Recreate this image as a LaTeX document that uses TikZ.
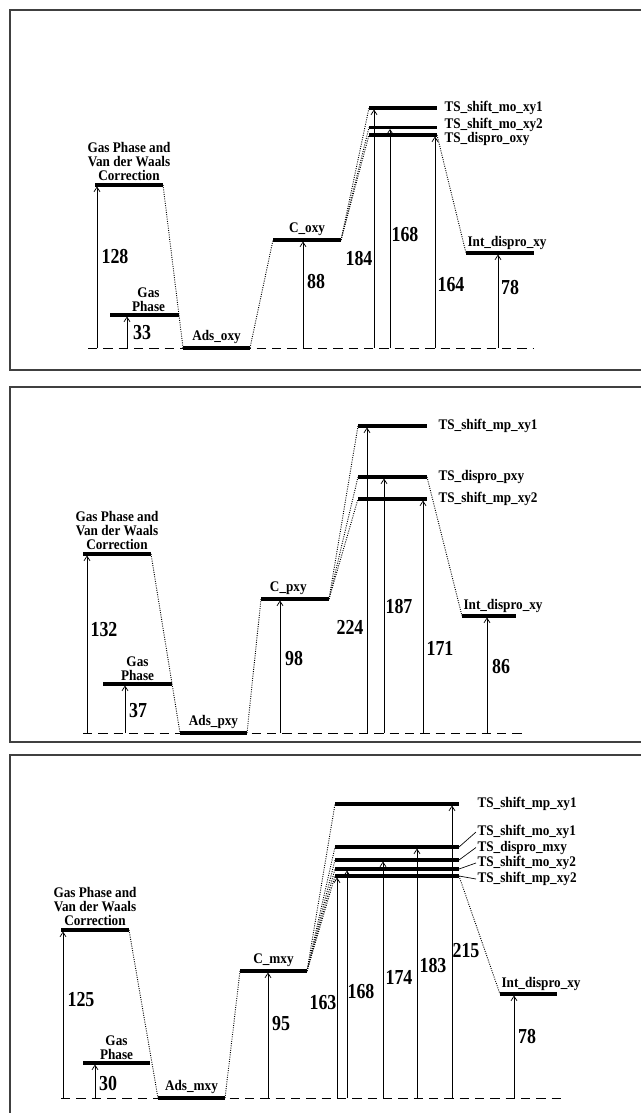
\documentclass[tikz,border=0pt]{standalone}
\usepackage{fontspec}
\setmainfont{Liberation Serif}
\newfontfamily\labfont{Liberation Serif Bold}[FakeStretch=0.9]
\newfontfamily\numfont{Liberation Serif Bold}[FakeStretch=0.84]
\usetikzlibrary{arrows.meta}

\begin{document}
\begin{tikzpicture}[
x=0.75pt, y=-0.75pt,
lvl/.style={line width=2.3pt},
link/.style={densely dotted, line width=0.7pt},
zero/.style={dash pattern=on 7pt off 4.5pt, line width=0.7pt},
rise/.style={-{Straight Barb[length=3.5pt,width=4.5pt]}, line width=0.55pt, shorten >=1.1pt},
lab/.style={font=\labfont\fontsize{11}{10.5}\selectfont, align=center, inner sep=1pt},
num/.style={font=\numfont\fontsize{16}{18}\selectfont, inner sep=0pt},
panel/.style={line width=0.8pt, draw=black!75},
lead/.style={line width=0.5pt}
]
\useasboundingbox (0,0) rectangle (641,1113);

% frames
\draw[panel] (641,10) -- (10,10) -- (10,370) -- (641,370);
\draw[panel] (641,387) -- (10,387) -- (10,742) -- (641,742);
\draw[panel] (641,755) -- (10,755) -- (10,1113);

%% o-xylene
\draw[zero] (88,348) -- (534,348);

\draw[lvl] (95,185) coordinate (vdwo-l) -- node[lab, above=1pt] (vdwo-t)
{Gas Phase and\\Van der Waals\\Correction} (163,185) coordinate (vdwo-r);
\draw[lvl] (110,315) coordinate (gaso-l) -- node[lab, above=0.5pt, xshift=3pt] (gaso-t)
{Gas\\Phase} (179,315) coordinate (gaso-r);
\draw[lvl] (183,348) coordinate (adso-l) -- node[lab, above=1pt] (adso-t)
{Ads\_oxy} (250,348) coordinate (adso-r);
\draw[lvl] (273,240) coordinate (co-l) -- node[lab, above=1pt] (co-t)
{C\_oxy} (341,240) coordinate (co-r);
\draw[lvl] (369,108) coordinate (tso1-l) -- (437,108) coordinate (tso1-r)
node[lab, right=3.5pt] (tso1-t) {TS\_shift\_mo\_xy1};
\draw[lvl] (369,127.5) coordinate (tso2-l) -- (437,127.5) coordinate (tso2-r)
node[lab, right=3.5pt, yshift=1.8pt] (tso2-t) {TS\_shift\_mo\_xy2};
\draw[lvl] (369,135) coordinate (tsdo-l) -- (437,135) coordinate (tsdo-r)
node[lab, right=3.5pt, yshift=-3pt] (tsdo-t) {TS\_dispro\_oxy};
\draw[lvl] (466,253) coordinate (into-l) -- (534,253) coordinate (into-r);
\node[lab, anchor=south west] (into-t) at ([yshift=1pt]into-l) {Int\_dispro\_xy};

\draw[link] (vdwo-r) -- (adso-l);
\draw[link] (adso-r) -- (co-l);
\draw[link] (co-r) -- (tso1-l);
\draw[link] (co-r) -- (tso2-l);
\draw[link] (co-r) -- (tsdo-l);
\draw[link] (tsdo-r) -- (into-l);

\draw[rise] (97,348) coordinate (o128) -- (o128 |- vdwo-l);
\draw[rise] (127,348) coordinate (o33) -- (o33 |- gaso-l);
\draw[rise] (303,348) coordinate (o88) -- (o88 |- co-l);
\draw[rise] (374,348) coordinate (o184) -- (o184 |- tso1-l);
\draw[rise] (390,348) coordinate (o168) -- (o168 |- tso2-l);
\draw[rise] (435,348) coordinate (o164) -- (o164 |- tsdo-l);
\draw[rise] (498,348) coordinate (o78) -- (o78 |- into-l);

\node[num] (no128) at (115,257) {128};
\node[num] (no33) at (142,333) {33};
\node[num] (no88) at (316,282) {88};
\node[num] (no184) at (359,259) {184};
\node[num] (no168) at (405,235) {168};
\node[num] (no164) at (451,285) {164};
\node[num] (no78) at (510,288) {78};

%% p-xylene
\draw[zero] (83,733) -- (523,733);

\draw[lvl] (83,554) coordinate (vdwp-l) -- node[lab, above=1pt] (vdwp-t)
{Gas Phase and\\Van der Waals\\Correction} (151,554) coordinate (vdwp-r);
\draw[lvl] (103,684) coordinate (gasp-l) -- node[lab, above=0.5pt] (gasp-t)
{Gas\\Phase} (172,684) coordinate (gasp-r);
\draw[lvl] (180,733) coordinate (adsp-l) -- node[lab, above=1pt] (adsp-t)
{Ads\_pxy} (247,733) coordinate (adsp-r);
\draw[lvl] (261,599) coordinate (cp-l) -- node[lab, above=1pt, xshift=-5pt] (cp-t)
{C\_pxy} (329,599) coordinate (cp-r);
\draw[lvl] (358,426) coordinate (tsp1-l) -- (427,426) coordinate (tsp1-r)
node[lab, right=6.5pt] (tsp1-t) {TS\_shift\_mp\_xy1};
\draw[lvl] (358,477) coordinate (tspd-l) -- (427,477) coordinate (tspd-r)
node[lab, right=6.5pt] (tspd-t) {TS\_dispro\_pxy};
\draw[lvl] (358,499) coordinate (tsp2-l) -- (427,499) coordinate (tsp2-r)
node[lab, right=6.5pt] (tsp2-t) {TS\_shift\_mp\_xy2};
\draw[lvl] (462,616) coordinate (intp-l) -- (516,616) coordinate (intp-r);
\node[lab, anchor=south west] (intp-t) at ([yshift=1pt]intp-l) {Int\_dispro\_xy};

\draw[link] (vdwp-r) -- (adsp-l);
\draw[link] (adsp-r) -- (cp-l);
\draw[link] (cp-r) -- (tsp1-l);
\draw[link] (cp-r) -- (tspd-l);
\draw[link] (cp-r) -- (tsp2-l);
\draw[link] (tspd-r) -- (intp-l);

\draw[rise] (87,733) coordinate (p132) -- (p132 |- vdwp-l);
\draw[rise] (125,733) coordinate (p37) -- (p37 |- gasp-l);
\draw[rise] (280,733) coordinate (p98) -- (p98 |- cp-l);
\draw[rise] (367,733) coordinate (p224) -- (p224 |- tsp1-l);
\draw[rise] (384,733) coordinate (p187) -- (p187 |- tspd-l);
\draw[rise] (423,733) coordinate (p171) -- (p171 |- tsp2-l);
\draw[rise] (487,733) coordinate (p86) -- (p86 |- intp-l);

\node[num] (np132) at (104,630) {132};
\node[num] (np37) at (138,711) {37};
\node[num] (np98) at (294,659) {98};
\node[num] (np224) at (350,627) {224};
\node[num] (np187) at (399,607) {187};
\node[num] (np171) at (440,648) {171};
\node[num] (np86) at (501,667) {86};

%% m-xylene
\draw[zero] (61,1098) -- (562,1098);

\draw[lvl] (61,930) coordinate (vdwm-l) -- node[lab, above=1pt] (vdwm-t)
{Gas Phase and\\Van der Waals\\Correction} (129,930) coordinate (vdwm-r);
\draw[lvl] (83,1063) coordinate (gasm-l) -- node[lab, above=0.5pt] (gasm-t)
{Gas\\Phase} (150,1063) coordinate (gasm-r);
\draw[lvl] (158,1098) coordinate (adsm-l) -- node[lab, above=1pt] (adsm-t)
{Ads\_mxy} (225,1098) coordinate (adsm-r);
\draw[lvl] (240,971) coordinate (cm-l) -- node[lab, above=1pt] (cm-t)
{C\_mxy} (307,971) coordinate (cm-r);
\draw[lvl] (335,804) coordinate (tsm-mp1-l) -- (459,804) coordinate (tsm-mp1-r);
\draw[lvl] (335,847) coordinate (tsm-mo1-l) -- (459,847) coordinate (tsm-mo1-r);
\draw[lvl] (335,860) coordinate (tsm-d-l) -- (459,860) coordinate (tsm-d-r);
\draw[lvl] (335,869) coordinate (tsm-mo2-l) -- (459,869) coordinate (tsm-mo2-r);
\draw[lvl] (335,876) coordinate (tsm-mp2-l) -- (459,876) coordinate (tsm-mp2-r);
\draw[lvl] (500,994) coordinate (intm-l) -- (557,994) coordinate (intm-r);
\node[lab, anchor=south west] (intm-t) at ([yshift=1pt]intm-l) {Int\_dispro\_xy};

\node[lab, anchor=west] (tsm-mp1-t) at (476,804) {TS\_shift\_mp\_xy1};
\node[lab, anchor=west] (tsm-mo1-t) at (476,832) {TS\_shift\_mo\_xy1};
\node[lab, anchor=west] (tsm-d-t) at (476,847.5) {TS\_dispro\_mxy};
\node[lab, anchor=west] (tsm-mo2-t) at (476,863) {TS\_shift\_mo\_xy2};
\node[lab, anchor=west] (tsm-mp2-t) at (476,879) {TS\_shift\_mp\_xy2};
\draw[lead] (tsm-mo1-r) -- (tsm-mo1-t.west);
\draw[lead] (tsm-d-r) -- (tsm-d-t.west);
\draw[lead] (tsm-mo2-r) -- (tsm-mo2-t.west);
\draw[lead] (tsm-mp2-r) -- (tsm-mp2-t.west);

\draw[link] (vdwm-r) -- (adsm-l);
\draw[link] (adsm-r) -- (cm-l);
\draw[link] (cm-r) -- (tsm-mp1-l);
\draw[link] (cm-r) -- (tsm-mo1-l);
\draw[link] (cm-r) -- (tsm-d-l);
\draw[link] (cm-r) -- (tsm-mo2-l);
\draw[link] (cm-r) -- (tsm-mp2-l);
\draw[link] (tsm-mp2-r) -- (intm-l);

\draw[rise] (63,1098) coordinate (m125) -- (m125 |- vdwm-l);
\draw[rise] (95,1098) coordinate (m30) -- (m30 |- gasm-l);
\draw[rise] (268,1098) coordinate (m95) -- (m95 |- cm-l);
\draw[rise] (337,1098) coordinate (m163) -- (m163 |- tsm-mp2-l);
\draw[rise] (347,1098) coordinate (m168) -- (m168 |- tsm-mo2-l);
\draw[rise] (383,1098) coordinate (m174) -- (m174 |- tsm-d-l);
\draw[rise] (417,1098) coordinate (m183) -- (m183 |- tsm-mo1-l);
\draw[rise] (452,1098) coordinate (m215) -- (m215 |- tsm-mp1-l);
\draw[rise] (514,1098) coordinate (m78) -- (m78 |- intm-l);

\node[num] (nm125) at (81,1000) {125};
\node[num] (nm30) at (108,1083) {30};
\node[num] (nm95) at (281,1024) {95};
\node[num] (nm163) at (323,1003) {163};
\node[num] (nm168) at (361,991) {168};
\node[num] (nm174) at (399,977) {174};
\node[num] (nm183) at (433,965) {183};
\node[num] (nm215) at (466,951) {215};
\node[num] (nm78) at (527,1036) {78};

\end{tikzpicture}
\end{document}
